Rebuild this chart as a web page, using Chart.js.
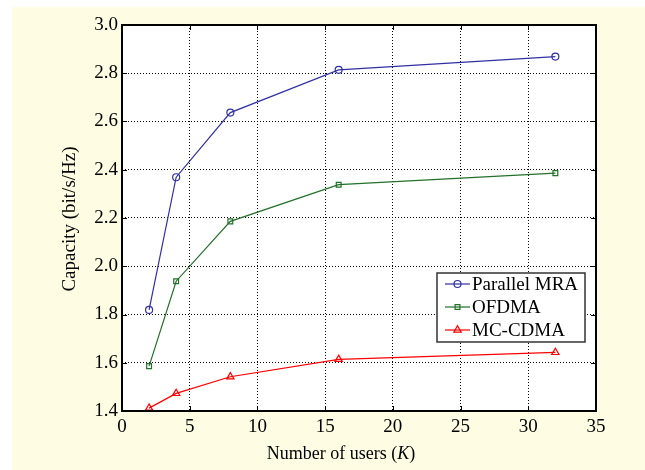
<!DOCTYPE html>
<html lang="en">
<head>
    <meta charset="UTF-8">
    <title>Capacity vs number of users</title>
    <script src="https://cdn.jsdelivr.net/npm/chart.js"></script>
    <style>
        body {
            margin: 0;
            background: #fff;
        }
        #panel {
            position: absolute;
            left: 12px;
            top: 7px;
            right: 0;
            bottom: 0;
            background: #fefde4;
        }
        #capChart {
            position: absolute;
            left: 0;
            top: 0;
        }
    </style>
</head>
<body>

<div id="panel"></div>
<canvas id="capChart" width="645" height="470"></canvas>

<script>
    // values
    const users = [2, 4, 8, 16, 32];
    const parallelMRA = [1.819, 2.369, 2.637, 2.814, 2.869];
    const ofdma = [1.586, 1.938, 2.186, 2.338, 2.386];
    const mcCdma = [1.412, 1.473, 1.542, 1.614, 1.643];

    const seriesLabels = ['Parallel MRA', 'OFDMA', 'MC-CDMA'];
    const xRange = [0, 35, 5];
    const yRange = [1.4, 3.0, 0.2];

    const FONT = '"Liberation Serif", "Times New Roman", serif';

    function points(ys) {
        return users.map((u, i) => ({ x: u, y: ys[i] }));
    }

    function series(label, ys, color, style, radius) {
        return {
            label: label,
            data: points(ys),
            borderColor: color,
            backgroundColor: 'rgba(0,0,0,0)',
            borderWidth: 1.2,
            pointStyle: style,
            pointRadius: radius,
            pointBorderColor: color,
            pointBackgroundColor: 'rgba(0,0,0,0)',
            pointBorderWidth: 1.2,
            tension: 0
        };
    }

    // white axes box, inward ticks, frame, axis titles and legend
    const matlabLook = {
        id: 'matlabLook',
        beforeDraw(chart) {
            const a = chart.chartArea;
            const c = chart.ctx;
            c.save();
            c.fillStyle = '#fff';
            c.fillRect(a.left, a.top, a.right - a.left, a.bottom - a.top);
            c.restore();
        },
        afterDraw(chart) {
            const a = chart.chartArea;
            const c = chart.ctx;
            const xs = chart.scales.x, ys = chart.scales.y;
            c.save();
            c.strokeStyle = '#000';
            c.lineWidth = 1;
            c.beginPath();
            xs.ticks.forEach(t => {
                const px = Math.round(xs.getPixelForValue(t.value)) + 0.5;
                c.moveTo(px, a.bottom); c.lineTo(px, a.bottom - 5);
                c.moveTo(px, a.top); c.lineTo(px, a.top + 5);
            });
            ys.ticks.forEach(t => {
                const py = Math.round(ys.getPixelForValue(t.value)) + 0.5;
                c.moveTo(a.left, py); c.lineTo(a.left + 5, py);
                c.moveTo(a.right, py); c.lineTo(a.right - 5, py);
            });
            c.stroke();
            c.lineWidth = 2;
            c.strokeRect(a.left, a.top, a.right - a.left, a.bottom - a.top);

            // axis titles
            c.fillStyle = '#000';
            c.textBaseline = 'middle';
            c.font = '18px ' + FONT;
            const t1 = 'Number of users (', t2 = 'K', t3 = ')';
            const w1 = c.measureText(t1).width;
            const w3 = c.measureText(t3).width;
            c.font = 'italic 18px ' + FONT;
            const w2 = c.measureText(t2).width;
            let tx = 341 - (w1 + w2 + w3) / 2;
            const ty = 454;
            c.textAlign = 'left';
            c.font = '18px ' + FONT;
            c.fillText(t1, tx, ty);
            c.font = 'italic 18px ' + FONT;
            c.fillText(t2, tx + w1, ty);
            c.font = '18px ' + FONT;
            c.fillText(t3, tx + w1 + w2, ty);

            c.save();
            c.translate(70, (a.top + a.bottom) / 2 + 1);
            c.rotate(-Math.PI / 2);
            c.textAlign = 'center';
            c.font = '19px ' + FONT;
            c.fillText('Capacity (bit/s/Hz)', 0, 0);
            c.restore();

            // legend
            const bx = a.right - 159, by = a.top + 248, bw = 148, bh = 69;
            c.fillStyle = '#fff';
            c.fillRect(bx, by, bw, bh);
            c.strokeStyle = '#333';
            c.lineWidth = 1.5;
            c.strokeRect(bx, by, bw, bh);
            chart.data.datasets.forEach((ds, i) => {
                const ry = by + 11 + i * 23;
                c.strokeStyle = ds.borderColor;
                c.fillStyle = 'rgba(0,0,0,0)';
                c.lineWidth = 1.2;
                c.beginPath();
                c.moveTo(bx + 8, ry); c.lineTo(bx + 33, ry);
                c.stroke();
                Chart.helpers.drawPoint(c, {
                    pointStyle: ds.pointStyle,
                    radius: ds.pointRadius,
                    rotation: 0,
                    borderWidth: 1.2
                }, bx + 20.5, ry);
                c.fillStyle = '#000';
                c.textAlign = 'left';
                c.textBaseline = 'middle';
                c.font = '19px ' + FONT;
                c.fillText(ds.label, bx + 35, ry + 1);
            });
            c.restore();
        }
    };

    const ctx = document.getElementById('capChart').getContext('2d');
    const capChart = new Chart(ctx, {
        type: 'line',
        data: {
            datasets: [
                series(seriesLabels[0], parallelMRA, '#3030a4', 'circle', 3.5),
                series(seriesLabels[1], ofdma, '#22702a', 'rect', 3.4),
                series(seriesLabels[2], mcCdma, '#ff0000', 'triangle', 4.2)
            ]
        },
        options: {
            responsive: false,
            animation: false,
            layout: {
                padding: { left: 0, right: 49, top: 25, bottom: 0 }
            },
            scales: {
                x: {
                    type: 'linear',
                    min: xRange[0],
                    max: xRange[1],
                    afterFit(scale) { scale.height = 59; },
                    ticks: {
                        stepSize: xRange[2],
                        padding: 5,
                        color: '#000',
                        font: { family: FONT, size: 19 },
                        maxRotation: 0
                    },
                    grid: {
                        color: '#000',
                        lineWidth: 1,
                        drawTicks: false
                    },
                    border: { display: false, dash: [1, 2] }
                },
                y: {
                    type: 'linear',
                    min: yRange[0],
                    max: yRange[1],
                    afterFit(scale) { scale.width = 122; },
                    ticks: {
                        stepSize: yRange[2],
                        padding: 4,
                        color: '#000',
                        font: { family: FONT, size: 19 },
                        callback: v => v.toFixed(1)
                    },
                    grid: {
                        color: '#000',
                        lineWidth: 1,
                        drawTicks: false
                    },
                    border: { display: false, dash: [1, 2] }
                }
            },
            plugins: {
                legend: { display: false },
                tooltip: { enabled: false }
            }
        },
        plugins: [matlabLook]
    });
</script>

</body>
</html>
